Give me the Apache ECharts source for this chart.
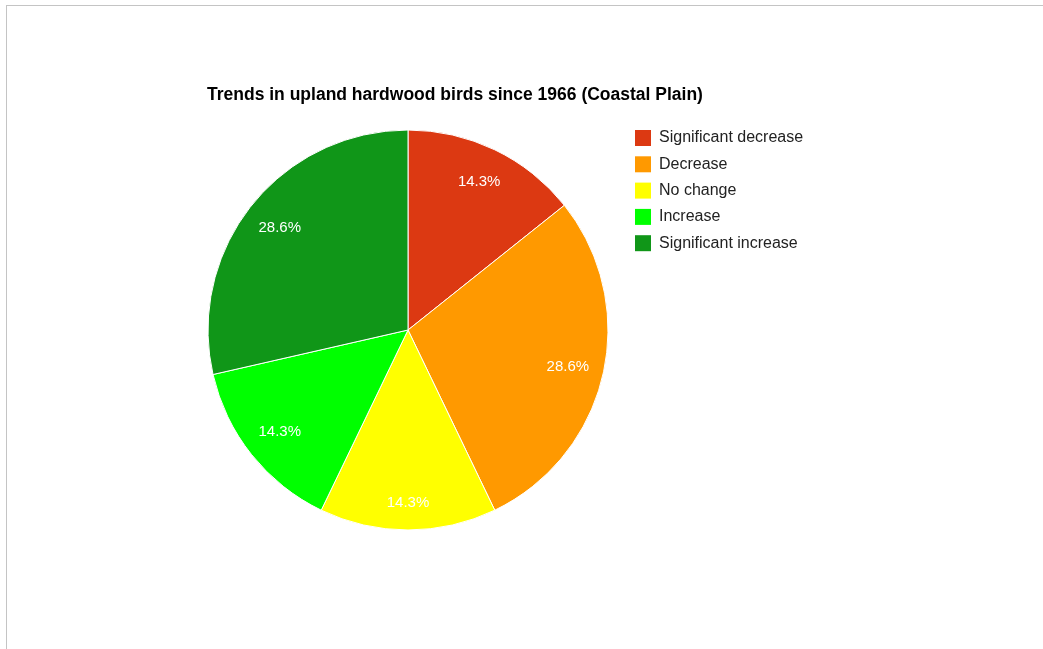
<!DOCTYPE html>
<html>
<head>
<meta charset="utf-8">
<script src="https://cdn.jsdelivr.net/npm/echarts@6/dist/echarts.min.js"></script>
<style>
  html, body { margin: 0; padding: 0; background: #fff; }
  #frame { position: absolute; left: 6px; top: 5px; width: 1043px; height: 650px; border-left: 1px solid #c4c4c4; border-top: 1px solid #c4c4c4; }
  #chart { position: absolute; left: 0; top: 0; width: 1043px; height: 649px; }
</style>
</head>
<body>
<div id="frame"></div>
<div id="chart"></div>
<script>
const categories = ['Significant decrease', 'Decrease', 'No change', 'Increase', 'Significant increase'];
const speciesCounts = [1, 2, 1, 1, 2];
const sliceColors = ['#dc3912', '#ff9900', '#ffff00', '#00ff00', '#109618'];

const pieData = categories.map((name, i) => ({
  name: name,
  value: speciesCounts[i],
  itemStyle: { color: sliceColors[i] }
}));

const total = speciesCounts.reduce((a, b) => a + b, 0);
const FONT = 'Liberation Sans, Arial, sans-serif';

const chart = echarts.init(document.getElementById('chart'), null, { renderer: 'canvas' });
chart.setOption({
  animation: false,
  title: {
    text: 'Trends in upland hardwood birds since 1966 (Coastal Plain)',
    left: 202,
    top: 81,
    textStyle: { fontFamily: FONT, fontSize: 17.5, fontWeight: 'bold', color: '#000' }
  },
  legend: {
    orient: 'vertical',
    left: 630,
    top: 125,
    itemWidth: 16,
    itemHeight: 16,
    itemGap: 10.3,
    icon: 'rect',
    data: categories,
    itemStyle: { borderWidth: 0 },
    textStyle: { fontFamily: FONT, fontSize: 16, lineHeight: 16, color: '#222', padding: [0, 0, 0, 3] }
  },
  series: [
    {
      type: 'pie',
      center: [408, 330],
      radius: [0, 200],
      startAngle: 90,
      clockwise: true,
      silent: true,
      data: pieData,
      itemStyle: { borderColor: '#fff', borderWidth: 1 },
      label: { show: false },
      labelLine: { show: false }
    },
    {
      // ring used only to place the percentage labels near the rim
      type: 'pie',
      center: [408, 330],
      radius: [122, 200],
      startAngle: 90,
      clockwise: true,
      silent: true,
      data: categories.map((name, i) => ({
        name: name,
        value: speciesCounts[i],
        label: name === 'No change' ? { offset: [0, 9] } : undefined
      })),
      itemStyle: { color: 'rgba(0,0,0,0)', borderWidth: 0 },
      label: {
        show: true,
        position: 'inside',
        formatter: p => (p.value / total * 100).toFixed(1) + '%',
        color: '#fff',
        fontFamily: FONT,
        fontSize: 15
      },
      labelLine: { show: false },
      emphasis: { disabled: true }
    }
  ]
});
</script>
</body>
</html>
